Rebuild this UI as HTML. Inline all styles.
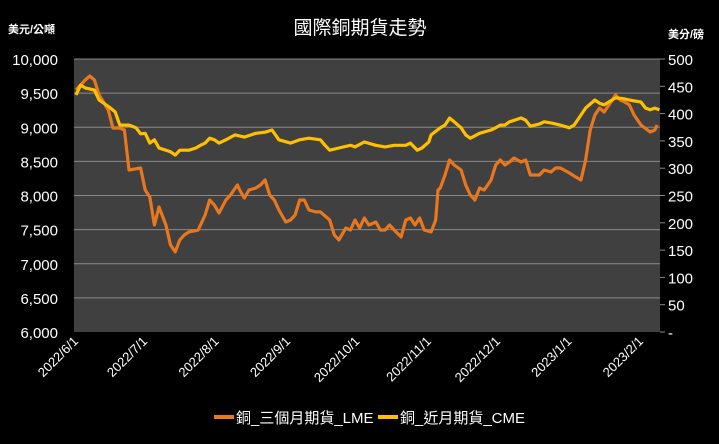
<!DOCTYPE html>
<html><head><meta charset="utf-8">
<style>
html,body{margin:0;padding:0;background:#000;}
body{width:719px;height:439px;overflow:hidden;font-family:"Liberation Sans","Noto Sans CJK TC",sans-serif;}
</style></head>
<body>
<svg id="chart" width="719" height="439" xmlns="http://www.w3.org/2000/svg" style="font-family:'Liberation Sans','Noto Sans CJK TC',sans-serif">
<rect x="0" y="0" width="719" height="439" fill="#000"/>
<text x="360" y="34" fill="#fff" font-size="19" text-anchor="middle">國際銅期貨走勢</text>
<text x="8" y="33" fill="#fff" font-size="11" font-weight="bold">美元/公噸</text>
<text x="668" y="38" fill="#fff" font-size="11" font-weight="bold">美分/磅</text>
<rect x="74" y="59" width="586" height="273" fill="#404040"/>
<g id="grid"></g><g id="axes"></g><g id="series"></g>
<g>
<line x1="214" y1="417" x2="234" y2="417" stroke="#E8771E" stroke-width="4"/>
<text x="236" y="423" fill="#fff" font-size="15">銅_三個月期貨_LME</text>
<line x1="378" y1="417" x2="398" y2="417" stroke="#FFC000" stroke-width="4"/>
<text x="400" y="423" fill="#fff" font-size="15">銅_近月期貨_CME</text>
</g>
</svg>
<script>
const leftTicks=[6000,6500,7000,7500,8000,8500,9000,9500,10000];
const leftTickLabels=["6,000","6,500","7,000","7,500","8,000","8,500","9,000","9,500","10,000"];
const rightTicks=[0,50,100,150,200,250,300,350,400,450,500];
const rightTickLabels=["-","50","100","150","200","250","300","350","400","450","500"];
const monthDays=[0,30,61,92,122,153,183,214,245];
const monthLabels=["2022/6/1","2022/7/1","2022/8/1","2022/9/1","2022/10/1","2022/11/1","2022/12/1","2023/1/1","2023/2/1"];
const lmeDays=[0,4,6,8,10,14,16,19,21,23,28,30,32,34,36,39,41,43,45,47,49,53,56,58,60,62,65,67,70,71,73,75,78,80,82,84,86,88,91,93,95,97,99,101,104,106,110,112,114,117,119,121,123,125,127,130,132,134,136,138,141,143,145,147,149,151,154,156,157,158,160,162,164,167,169,171,173,175,177,180,182,184,186,188,190,193,195,197,201,203,206,208,210,214,216,219,221,223,225,227,229,232,234,236,238,240,242,245,249,251,252];
const lmePrice=[9546,9692,9751,9692,9473,9253,8989,8989,8960,8374,8403,8081,7978,7568,7832,7568,7275,7173,7349,7422,7466,7495,7715,7934,7861,7744,7934,8008,8154,8081,7964,8081,8110,8154,8227,8008,7934,7788,7612,7641,7715,7934,7934,7788,7759,7759,7641,7422,7349,7524,7495,7641,7524,7671,7568,7612,7495,7495,7568,7495,7392,7641,7671,7568,7671,7495,7466,7641,8081,8110,8301,8520,8447,8374,8154,8008,7934,8110,8081,8227,8447,8520,8447,8491,8550,8491,8520,8301,8301,8374,8344,8403,8403,8330,8286,8227,8520,8960,9180,9282,9224,9370,9473,9400,9370,9326,9180,9033,8931,8960,9033];
const cmeDays=[0,2,4,8,10,15,17,19,23,26,28,30,32,34,36,39,41,43,45,49,52,54,56,58,60,62,65,69,73,78,82,85,88,93,97,101,106,108,110,114,119,121,125,130,134,138,143,145,148,150,153,154,158,160,162,164,167,169,171,175,180,182,184,186,188,193,195,197,201,203,206,210,214,216,221,225,227,229,234,238,240,245,247,249,251,253];
const cmePrice=[434,452,447,443,425,410,403,379,379,374,363,364,346,352,337,333,330,324,333,333,337,342,346,355,352,346,352,361,357,364,366,370,352,346,352,355,352,342,333,337,342,339,348,342,339,342,342,346,333,337,348,361,374,379,392,385,374,361,355,364,370,374,379,379,385,392,388,377,381,385,383,379,374,379,410,425,419,416,429,427,425,421,410,407,410,407];

const NS="http://www.w3.org/2000/svg";
const X0=74,X1=660,Y0=332,Y1=59;
const xScale=d=>76+d*2.306;
const yLeft=v=>Y0-(v-6000)/4000*(Y0-Y1);
const yRight=v=>Y0-v/500*(Y0-Y1);
function mk(tag,attrs,parent){const e=document.createElementNS(NS,tag);for(const k in attrs)e.setAttribute(k,attrs[k]);parent.appendChild(e);return e;}
const grid=document.getElementById('grid'),axes=document.getElementById('axes'),series=document.getElementById('series');
leftTicks.forEach((v,i)=>{
  const y=yLeft(v);
  if(v>6000){const g=mk('line',{x1:X0,x2:X1,y1:y,y2:y,stroke:'#8a8a8a','stroke-width':1},grid);
  
  }
  const t=mk('text',{x:58,y:y+6,fill:'#fff','font-size':15,'text-anchor':'end'},axes);
  t.textContent=leftTickLabels[i];
  
  
});
rightTicks.forEach((v,i)=>{
  const y=yRight(v);
  const tk=mk('line',{x1:X1,x2:X1+5,y1:y,y2:y,stroke:'#8a8a8a'},axes);
  
  
  const t=mk('text',{x:668,y:y+6,fill:'#fff','font-size':15},axes);
  t.textContent=rightTickLabels[i];
  
  
});
monthDays.forEach((d,i)=>{
  const x=xScale(d)+3,y=342;
  const t=mk('text',{x:x,y:y,fill:'#fff','font-size':13,'text-anchor':'end',transform:`rotate(-45 ${x} ${y})`},axes);
  t.textContent=monthLabels[i];
  
  
});
function line(days,vals,ys,color,name){
  const pts=days.map((d,i)=>xScale(d).toFixed(1)+','+ys(vals[i]).toFixed(1)).join(' ');
  const p=mk('polyline',{points:pts,fill:'none',stroke:color,'stroke-width':3.2,'stroke-linejoin':'round'},series);
  
  
}
line(lmeDays,lmePrice,yLeft,'#E8771E','lme-line');
line(cmeDays,cmePrice,yRight,'#FFC000','cme-line');
</script>
</body></html>
